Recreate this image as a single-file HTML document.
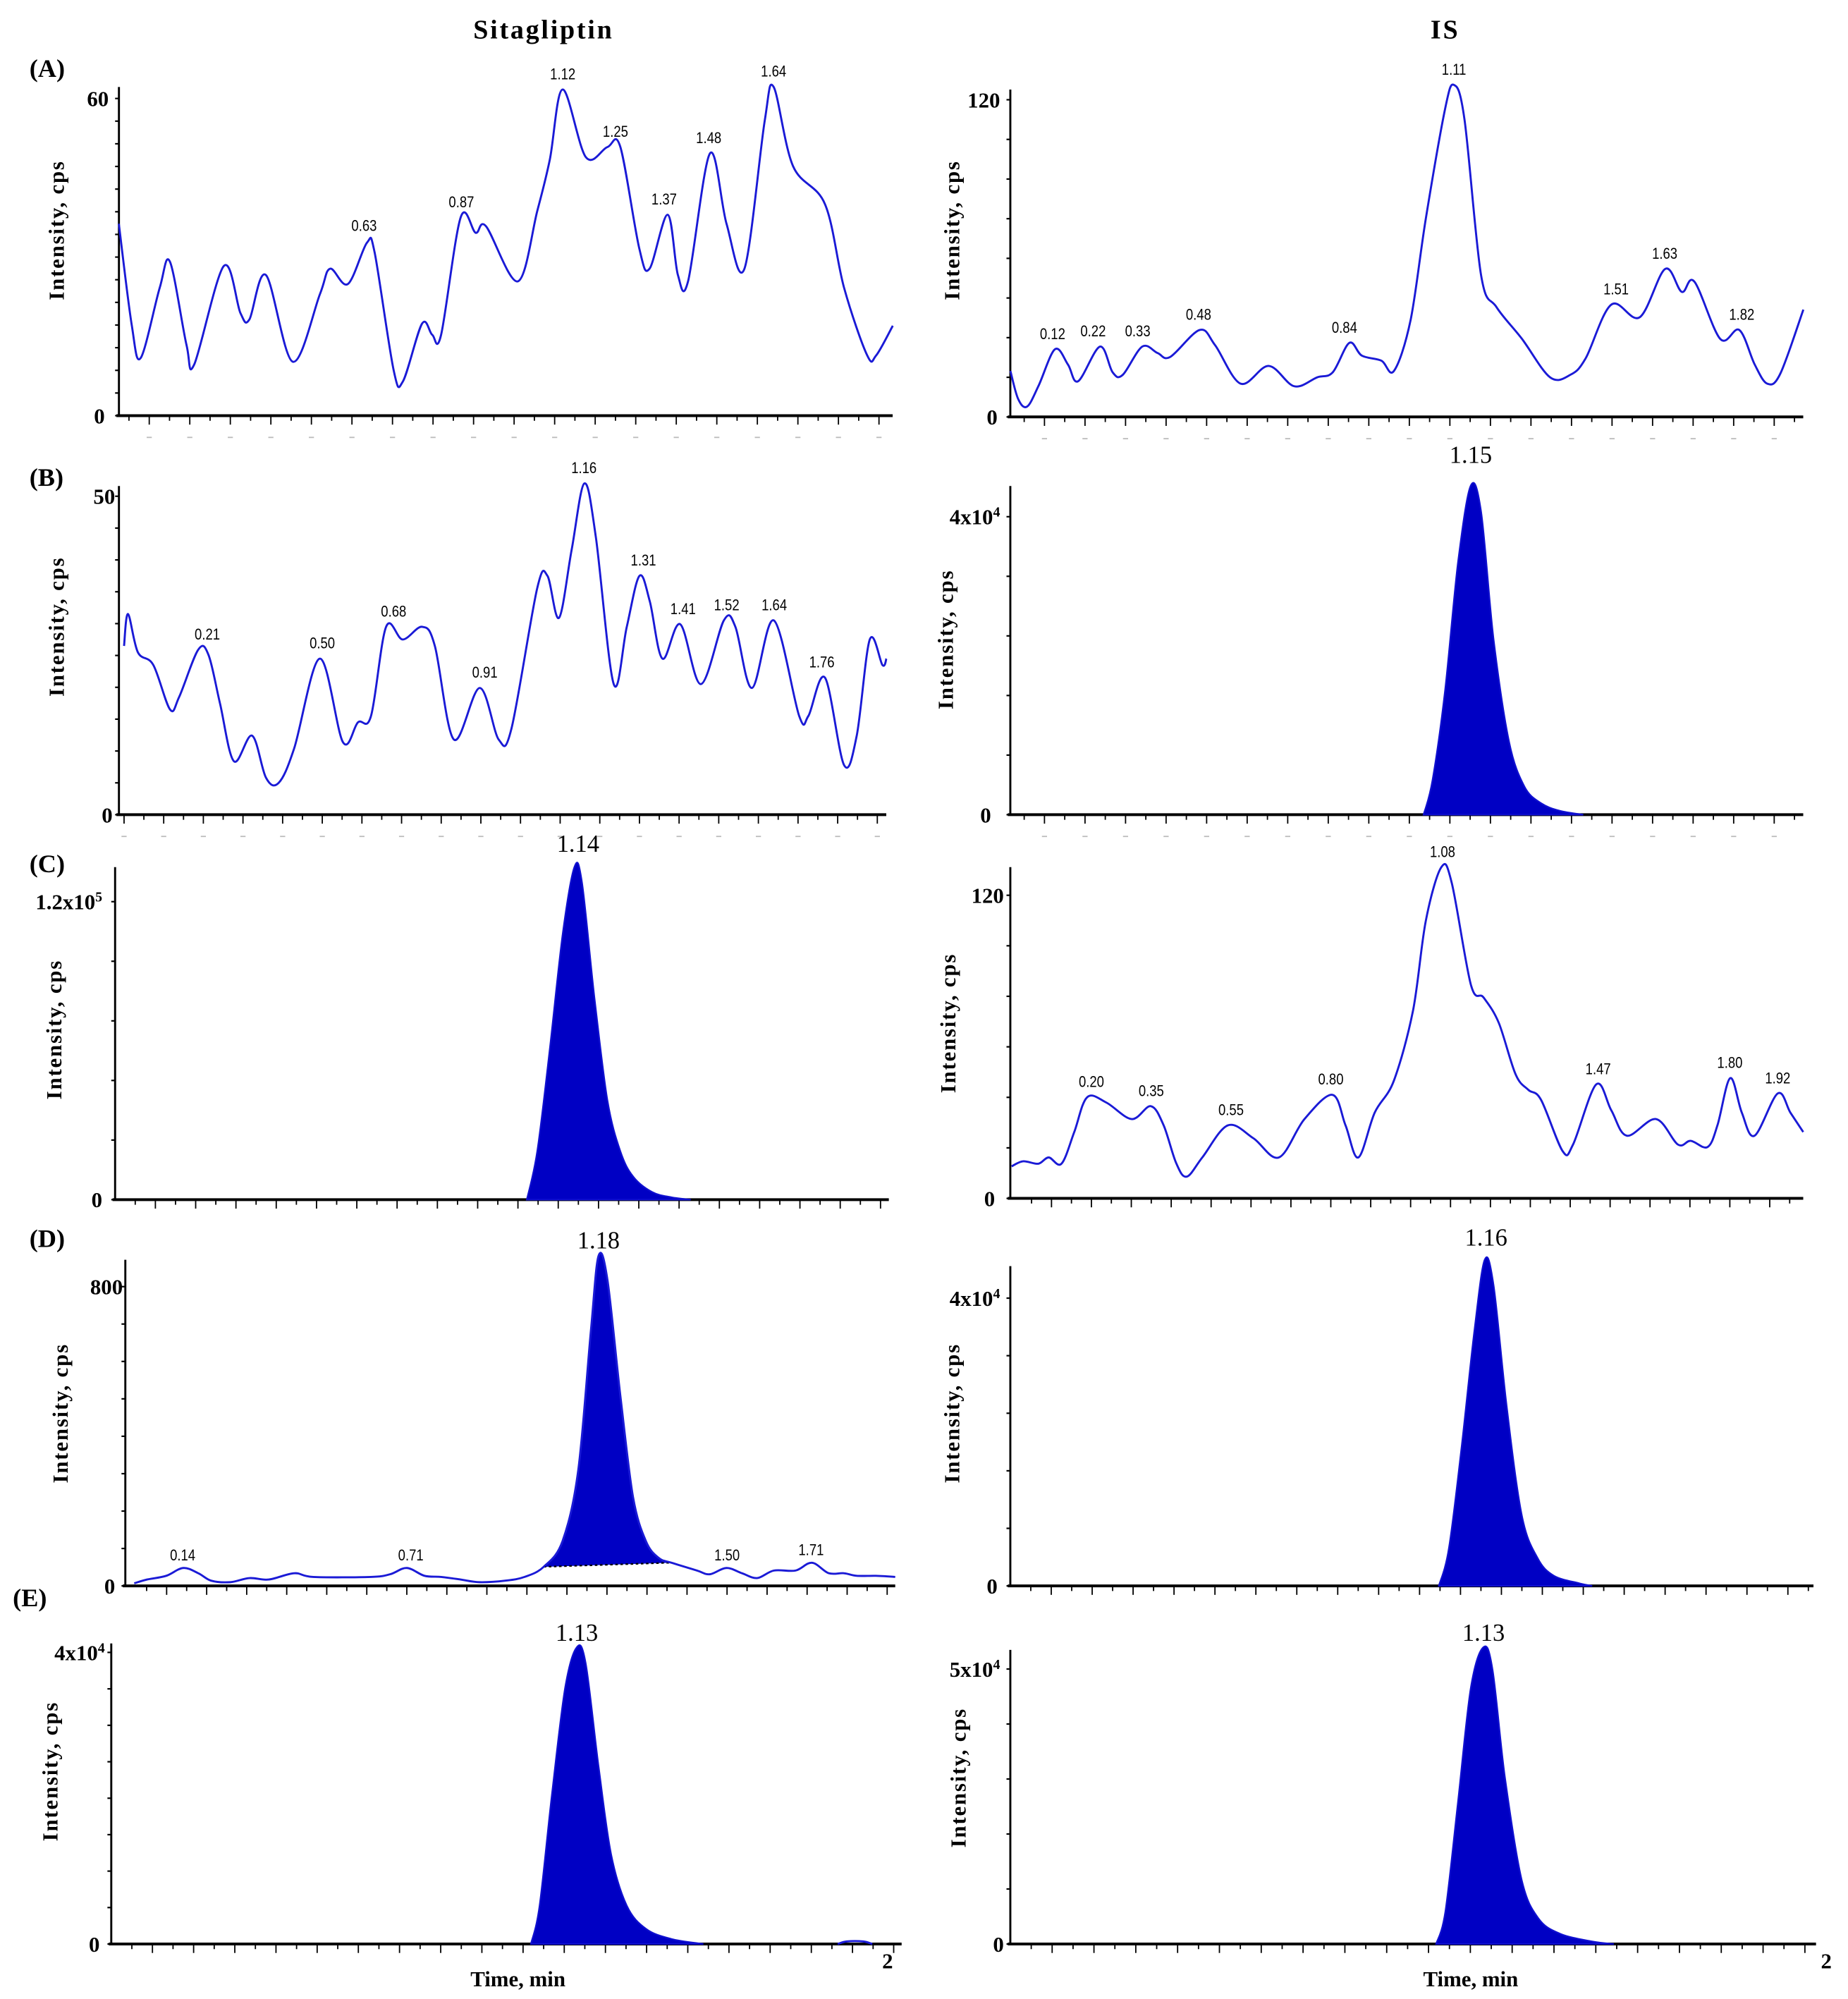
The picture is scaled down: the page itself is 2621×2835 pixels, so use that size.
<!DOCTYPE html>
<html><head><meta charset="utf-8"><style>
html,body{margin:0;padding:0;background:#fff}
svg{display:block}
.ttl{font-family:"Liberation Serif",serif;font-weight:bold;font-size:21px;letter-spacing:1.5px}
.pl{font-family:"Liberation Serif",serif;font-weight:bold;font-size:20px}
.yt{font-family:"Liberation Serif",serif;font-weight:bold;font-size:17px;letter-spacing:1px}
.tk{font-family:"Liberation Serif",serif;font-weight:bold;font-size:17px}
.pk{font-family:"Liberation Sans",sans-serif;font-size:12px}
.bpk{font-family:"Liberation Serif",serif;font-size:19px}
</style></head><body>
<svg id="fig" width="2621" height="2835" viewBox="0 0 1445 1563" preserveAspectRatio="none" xmlns="http://www.w3.org/2000/svg">
<text class="ttl" x="425" y="30" text-anchor="middle">Sitagliptin</text>
<text class="ttl" x="1130" y="30" text-anchor="middle">IS</text>
<text class="pl" x="23" y="60">(A)</text>
<text class="pl" x="23" y="380">(B)</text>
<text class="pl" x="23" y="682">(C)</text>
<text class="pl" x="23" y="975">(D)</text>
<text class="pl" x="10" y="1256">(E)</text>
<text class="tk" x="694" y="1539" text-anchor="middle">2</text>
<text class="tk" x="1428" y="1539" text-anchor="middle">2</text>
<text class="tk" x="405" y="1553" text-anchor="middle">Time, min</text>
<text class="tk" x="1150" y="1553" text-anchor="middle">Time, min</text>
<g id="plots"></g>
</svg>
<script>
// ---- data (time in min, intensity in cps) ----
const leftA_t=[0.025,0.057,0.079,0.126,0.151,0.192,0.211,0.284,0.325,0.347,0.388,0.454,0.521,0.546,0.59,0.637,0.656,0.703,0.726,0.773,0.798,0.82,0.868,0.905,0.931,1.009,1.057,1.088,1.12,1.177,1.23,1.262,1.309,1.334,1.379,1.404,1.429,1.483,1.524,1.568,1.618,1.64,1.688,1.767,1.814,1.871,1.893,1.934];
const leftA_v=[36.3,17,10.9,24.2,29.1,13.3,9.7,28.3,19.4,18.2,26.6,10.2,23,27.8,24.9,32.7,30.8,8.5,6.5,17.4,15.3,15.3,37.5,34.6,35.8,25.4,38.7,48.4,61.7,48.9,50.8,50.8,31.5,27.8,38,26.6,25.4,49.6,36.3,27.8,55.7,62.2,47.2,40,24.2,11.4,11.4,17];
const leftA_lbl=[0.63,0.87,1.12,1.25,1.37,1.48,1.64];
const leftA_lv=[33,37.5,61.7,50.8,38,49.6,62.2];

const rightA_t=[0.016,0.035,0.057,0.085,0.126,0.158,0.183,0.237,0.268,0.293,0.341,0.379,0.41,0.483,0.521,0.584,0.653,0.716,0.773,0.811,0.852,0.883,0.931,0.962,1.003,1.041,1.088,1.11,1.136,1.177,1.215,1.278,1.347,1.397,1.435,1.498,1.568,1.631,1.672,1.703,1.767,1.814,1.852,1.883,1.915,1.972];
const rightA_v=[17.4,6.8,3.9,11.6,25.6,19.8,13.5,26.6,16.9,15.9,26.6,24.2,22.7,32.9,27.1,12.6,19.3,11.6,15,16.9,28,23.2,21.3,17.4,36.7,75.4,116.4,125.6,112.6,53.6,41.5,29.5,15,15.9,22.2,42.5,37.7,56,47.3,51.2,29.5,32.9,19.8,12.6,16.4,40.6];
const rightA_lbl=[0.12,0.22,0.33,0.48,0.84,1.11,1.51,1.63,1.82];
const rightA_lv=[25.6,26.6,26.6,32.9,28,125.6,42.5,56,32.9];

const leftB_t=[0.0,0.01,0.035,0.074,0.116,0.139,0.187,0.213,0.242,0.277,0.323,0.358,0.39,0.429,0.494,0.552,0.59,0.623,0.661,0.703,0.752,0.784,0.832,0.897,0.945,0.977,1.042,1.068,1.097,1.129,1.161,1.19,1.235,1.268,1.3,1.326,1.358,1.403,1.455,1.513,1.542,1.584,1.639,1.703,1.726,1.768,1.816,1.848,1.881,1.913,1.923];
const leftB_v=[26.5,31.5,25.5,23.5,16.5,18.5,25.9,25.1,17.5,8.4,12.4,5.8,5,10.4,24.5,11.4,14.5,15.5,29.5,27.5,29.5,26.5,11.8,19.9,11.8,13.5,35.5,37.5,30.9,41.6,52,43.6,20.5,29.5,37.5,33.5,24.5,29.9,20.5,30.5,29.5,19.9,30.5,15.5,15.5,21.5,7.8,12.4,27.5,23.5,24.5];
const leftB_lbl=[0.21,0.50,0.68,0.91,1.16,1.31,1.41,1.52,1.64,1.76];
const leftB_lv=[25.9,24.5,29.5,19.9,52,37.5,29.9,30.5,30.5,21.5];

const rightC_t=[0,0.029,0.067,0.093,0.125,0.157,0.189,0.237,0.301,0.349,0.381,0.413,0.439,0.478,0.542,0.606,0.67,0.734,0.804,0.837,0.869,0.91,0.958,1.006,1.038,1.077,1.103,1.151,1.183,1.221,1.263,1.295,1.327,1.381,1.407,1.465,1.503,1.542,1.615,1.67,1.702,1.744,1.769,1.801,1.83,1.862,1.92,1.952,1.984];
const rightC_v=[12.7,14.7,13.7,16.2,13.7,26.3,40,38,31.4,36.5,28.9,13.7,8.6,16.2,28.9,23.8,16.2,31.4,41,28.9,16.2,33.9,46.6,74.4,109.9,131.1,125,84.6,79.5,69.4,49.1,43,39,18.7,21.3,45.1,34.9,24.8,31.4,21.3,22.8,20.3,28.9,47.6,33.9,24.8,41.5,33.9,26.3];
const rightC_lbl=[0.20,0.35,0.55,0.80,1.08,1.47,1.80,1.92];
const rightC_lv=[40,36.5,28.9,41,131.1,45.1,47.6,41.5];

const leftD_t=[0.019,0.051,0.099,0.141,0.179,0.211,0.259,0.307,0.355,0.419,0.466,0.61,0.658,0.7,0.744,0.786,0.834,0.882,0.946,0.994,1.042,1.089,1.128,1.16,1.179,1.201,1.233,1.265,1.297,1.329,1.361,1.425,1.457,1.498,1.537,1.575,1.617,1.671,1.712,1.754,1.792,1.824,1.872,1.92];
const leftD_v=[7,17,27,48,34,14,10,21,17,34,24,24,31,48,27,24,17,10,14,24,51,120,308,684,882,820,513,239,120,75,62,41,31,48,34,21,41,41,62,34,34,27,27,24];
const leftD_lbl=[0.14,0.71,1.50,1.71];
const leftD_lv=[48,48,48,62];
const leftD_fill=[1.0,1.36];

const leftC_t=[1.022,1.048,1.079,1.111,1.14,1.159,1.19,1.222,1.254,1.286,1.333,1.381,1.429];
const leftC_v=[0,19570,60770,107100,133900,127700,81400,40200,19600,9300,3100,1000,0];
const rightB_t=[1.035,1.057,1.088,1.12,1.151,1.177,1.208,1.246,1.284,1.325,1.372,1.429];
const rightB_v=[0,4640,16660,33830,44130,40700,23520,9790,3780,1550,520,0];
const rightD_t=[1.047,1.072,1.103,1.134,1.159,1.181,1.213,1.25,1.288,1.328,1.391,1.422];
const rightD_v=[0,5330,19560,35560,45340,41780,24890,9780,3910,1420,360,0];
const leftE_t=[1.019,1.04,1.071,1.102,1.13,1.152,1.183,1.214,1.252,1.298,1.36,1.438];
const leftE_v=[0,5260,21050,35080,40690,38590,24560,12280,5260,2100,700,0];
const leftE_bump_t=[1.764,1.786,1.826,1.848];
const leftE_bump_v=[0,350,350,0];
const rightE_t=[1.018,1.04,1.07,1.101,1.131,1.153,1.183,1.223,1.263,1.315,1.391,1.443];
const rightE_v=[0,5820,25590,46520,53960,50010,30240,11630,4650,1860,470,0];

// ---- layout ----
const NS='http://www.w3.org/2000/svg';
const G=document.getElementById('plots');
function mk(tag,attrs,parent){const e=document.createElementNS(NS,tag);for(const k in attrs)e.setAttribute(k,attrs[k]);(parent||G).appendChild(e);return e;}
function axes(P){
  const g=mk('g',{});
  
  
  P.g=g;
  P.x=t=>P.xa+t*P.xb;
  P.y=v=>P.yb-(v/P.tv)*(P.yb-P.yt);
  const ya=mk('line',{x1:P.x0,y1:P.top,x2:P.x0,y2:P.yb,stroke:'#000','stroke-width':1.6},g);
  
  
  const xa=mk('line',{x1:P.x0-2,y1:P.yb,x2:P.x1,y2:P.yb,stroke:'#000','stroke-width':2.2},g);
  
  
  const step=(P.yb-P.yt)/(P.ny||4);
  for(let y=P.yb;y>=P.top-1;y-=step){mk('line',{x1:P.x0-3,y1:y,x2:P.x0,y2:y,stroke:'#000','stroke-width':1.2},g);}
  for(let i=0;i<=40;i++){const t=i*0.05;const x=P.x(t);if(x<P.x0+2||x>P.x1)continue;
    mk('line',{x1:x,y1:P.yb,x2:x,y2:P.yb+(i%2==0?7:4),stroke:'#000','stroke-width':1},g);
    if(P.faint&&i%2==0){mk('line',{x1:x-2,y1:P.yb+17,x2:x+2,y2:P.yb+17,stroke:'#bbb','stroke-width':1},g);}}
  const t1=mk('text',{x:P.lx,y:P.yt+6,'text-anchor':'end',class:'tk'},g);t1.textContent=P.tlab;
  
  
  if(P.sup){const s=mk('tspan',{'baseline-shift':'super','font-size':'11'},t1);s.textContent=P.sup;}
  const t0=mk('text',{x:P.lx0,y:P.yb+6,'text-anchor':'end',class:'tk'},g);t0.textContent='0';
  
  
  const yt=mk('text',{class:'yt','text-anchor':'middle',transform:`translate(${P.ytx},${P.yty}) rotate(-90)`},g);yt.textContent='Intensity, cps';
  
  
  return P;
}
function smooth(pts){let d=`M${pts[0][0]},${pts[0][1]}`;
  for(let i=0;i<pts.length-1;i++){const p0=pts[Math.max(0,i-1)],p1=pts[i],p2=pts[i+1],p3=pts[Math.min(pts.length-1,i+2)];
    const c1=[p1[0]+(p2[0]-p0[0])/6,p1[1]+(p2[1]-p0[1])/6],c2=[p2[0]-(p3[0]-p1[0])/6,p2[1]-(p3[1]-p1[1])/6];
    d+=` C${c1[0].toFixed(1)},${c1[1].toFixed(1)} ${c2[0].toFixed(1)},${c2[1].toFixed(1)} ${p2[0].toFixed(1)},${p2[1].toFixed(1)}`;}
  return d;}
function trace(P,ts,vs,name){const pts=ts.map((t,i)=>[P.x(t),P.y(vs[i])]);
  const p=mk('path',{d:smooth(pts),fill:'none',stroke:'#1a1ad6','stroke-width':1.6,'stroke-linejoin':'round'},P.g);
  
  }
function peak(P,ts,vs,name){const pts=ts.map((t,i)=>[P.x(t),P.y(vs[i])]);
  const p=mk('path',{d:smooth(pts)+' Z',fill:'#0000c4',stroke:'#1010d0','stroke-width':1.2},P.g);
  
  }
function labels(P,ls,lv,cls,dy){ls.forEach((l,i)=>{const cx=P.x(l),cy=P.y(lv[i])-dy;
  const t=mk('text',{x:0,y:0,'text-anchor':'middle',class:cls,transform:`translate(${cx},${cy}) scale(0.85,1)`},P.g);
  t.textContent=l.toFixed(2);
  
  });}

// Left A
let P=axes({name:'panel-a-sitagliptin',x0:93,x1:698,top:68,xa:85,xb:317,yb:325,yt:77,tv:60,ny:14,tlab:'60',lx:85,lx0:82,ytx:50,yty:180,faint:true});
trace(P,leftA_t,leftA_v,'trace-a-sitagliptin');labels(P,leftA_lbl,leftA_lv,'pk',8);
// Right A
P=axes({name:'panel-a-is',x0:790,x1:1410,top:70,xa:785,xb:317,yb:326,yt:78,tv:120,ny:8,tlab:'120',lx:782,lx0:780,ytx:750,yty:180,faint:true});
trace(P,rightA_t,rightA_v,'trace-a-is');labels(P,rightA_lbl,rightA_lv,'pk',8);
// Left B
P=axes({name:'panel-b-sitagliptin',x0:93,x1:693,top:380,xa:97,xb:310,yb:637,yt:388,tv:50,ny:10,tlab:'50',lx:90,lx0:88,ytx:50,yty:490,faint:true});
trace(P,leftB_t,leftB_v,'trace-b-sitagliptin');labels(P,leftB_lbl,leftB_lv,'pk',8);
// Right B
P=axes({name:'panel-b-is',x0:790,x1:1410,top:380,xa:785,xb:317,yb:637,yt:404,tv:40000,ny:5,tlab:'4x10',sup:'4',lx:782,lx0:775,ytx:745,yty:500,faint:true});
peak(P,rightB_t,rightB_v,'peak-b-is');
{const t=mk('text',{x:1150,y:362,'text-anchor':'middle',class:'bpk'},P.g);t.textContent='1.15';}
// Left C
P=axes({name:'panel-c-sitagliptin',x0:90,x1:695,top:678,xa:90,xb:315,yb:938,yt:705,tv:120000,ny:5,tlab:'1.2x10',sup:'5',lx:80,lx0:80,ytx:48,yty:805});
peak(P,leftC_t,leftC_v,'peak-c-sitagliptin');
{const t=mk('text',{x:452,y:666,'text-anchor':'middle',class:'bpk'},P.g);t.textContent='1.14';}
// Right C
P=axes({name:'panel-c-is',x0:790,x1:1410,top:678,xa:791,xb:312,yb:937,yt:700,tv:120,ny:6,tlab:'120',lx:785,lx0:778,ytx:747,yty:800});
trace(P,rightC_t,rightC_v,'trace-c-is');labels(P,rightC_lbl,rightC_lv,'pk',8);
// Left D
P=axes({name:'panel-d-sitagliptin',x0:98,x1:700,top:985,xa:99,xb:313,yb:1240,yt:1006,tv:800,ny:8,tlab:'800',lx:96,lx0:90,ytx:53,yty:1105});
{const i0=leftD_t.findIndex(t=>t>=leftD_fill[0]);const i1=leftD_t.findIndex(t=>t>=leftD_fill[1]);
 const pts=leftD_t.slice(i0,i1+1).map((t,k)=>[P.x(t),P.y(leftD_v[i0+k])]);
 const p=mk('path',{d:smooth(pts)+' Z',fill:'#0000c4',stroke:'none'},P.g);
 const b=mk('line',{x1:pts[0][0],y1:pts[0][1],x2:pts[pts.length-1][0],y2:pts[pts.length-1][1],stroke:'#000','stroke-width':1.2,'stroke-dasharray':'2,2'},P.g);}
trace(P,leftD_t,leftD_v,'trace-d-sitagliptin');labels(P,leftD_lbl,leftD_lv,'pk',6);
{const t=mk('text',{x:468,y:976,'text-anchor':'middle',class:'bpk'},P.g);t.textContent='1.18';}
// Right D
P=axes({name:'panel-d-is',x0:790,x1:1418,top:990,xa:790,xb:320,yb:1240,yt:1015,tv:40000,ny:5,tlab:'4x10',sup:'4',lx:782,lx0:780,ytx:750,yty:1105});
peak(P,rightD_t,rightD_v,'peak-d-is');
{const t=mk('text',{x:1162,y:974,'text-anchor':'middle',class:'bpk'},P.g);t.textContent='1.16';}
// Left E
P=axes({name:'panel-e-sitagliptin',x0:87,x1:705,top:1285,xa:87,xb:322,yb:1520,yt:1292,tv:40000,ny:8,tlab:'4x10',sup:'4',lx:82,lx0:78,ytx:45,yty:1385});
peak(P,leftE_t,leftE_v,'peak-e-sitagliptin');trace(P,leftE_bump_t,leftE_bump_v,'trace-e-bump');
{const t=mk('text',{x:451,y:1283,'text-anchor':'middle',class:'bpk'},P.g);t.textContent='1.13';}
// Right E
P=axes({name:'panel-e-is',x0:790,x1:1420,top:1290,xa:790,xb:327,yb:1520,yt:1305,tv:50000,ny:5,tlab:'5x10',sup:'4',lx:782,lx0:785,ytx:755,yty:1390});
peak(P,rightE_t,rightE_v,'peak-e-is');
{const t=mk('text',{x:1160,y:1283,'text-anchor':'middle',class:'bpk'},P.g);t.textContent='1.13';}
</script>
</body></html>
